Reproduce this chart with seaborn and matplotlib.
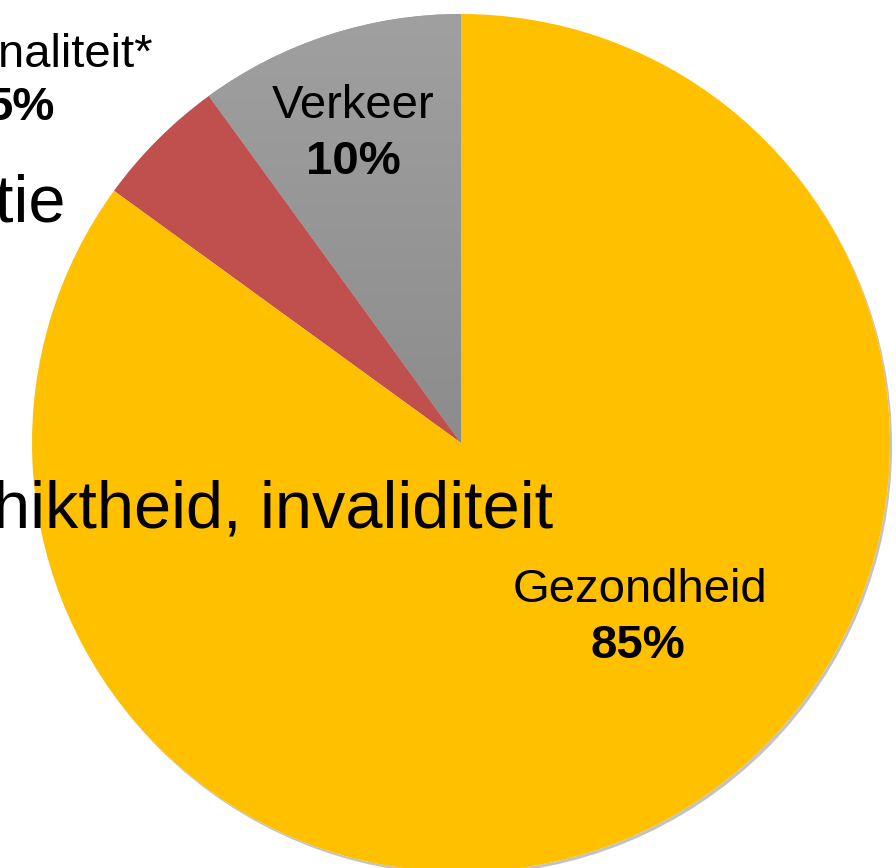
import numpy as np
import matplotlib
matplotlib.use("Agg")
import matplotlib.pyplot as plt
import matplotlib.patheffects as pe
from matplotlib.patches import Circle
from matplotlib.colors import LinearSegmentedColormap
import seaborn as sns

# data
categorieen = ["Verkeer", "Criminaliteit*", "Gezondheid"]
percentages = [10, 5, 85]
kleuren = ["#9A9A9A", "#C0504D", "#FFC000"]
achtergrond_tekst = ["tie", "hiktheid, invaliditeit"]

sns.set_theme(style="white")
plt.rcParams["font.family"] = ["Liberation Sans", "DejaVu Sans"]
plt.rcParams["text.color"] = "black"

fig = plt.figure(figsize=(8.96, 8.68), dpi=100)
ax = fig.add_axes([0, 0, 1, 1])

centrum = (461, 425)
straal = 429

# schaduw onder de taart
schaduw = Circle(centrum, straal, facecolor="white", edgecolor="none", zorder=1,
                 path_effects=[pe.SimplePatchShadow(offset=(1.5, -2), shadow_rgbFace="#555555", alpha=0.35),
                               pe.Normal()])
ax.add_patch(schaduw)

wedges, _ = ax.pie(percentages, colors=kleuren, startangle=90, counterclock=True,
                   center=centrum, radius=straal, frame=True,
                   wedgeprops=dict(linewidth=0, zorder=2))

# verloop in het grijze segment
grijs = LinearSegmentedColormap.from_list("grijs", ["#8C8C8C", "#A0A0A0"])
verloop = np.linspace(0, 1, 256).reshape(-1, 1)
img = ax.imshow(verloop, cmap=grijs, origin="lower", aspect="auto",
                extent=(200, 470, centrum[1], centrum[1] + straal + 2), zorder=3)
img.set_clip_path(wedges[0])

ax.set_xlim(0, 896)
ax.set_ylim(0, 868)
ax.set_aspect("equal")
ax.axis("off")

H = 868
fs = 34
ax.text(353, H - 118, "Verkeer", ha="center", va="baseline", fontsize=fs, color="black", zorder=5)
ax.text(353, H - 174, "10%", ha="center", va="baseline", fontsize=fs, fontweight="bold", color="black", zorder=5)
ax.text(21, H - 67, "Criminaliteit*", ha="center", va="baseline", fontsize=fs, color="black", zorder=5)
ax.text(21, H - 120, "5%", ha="center", va="baseline", fontsize=fs, fontweight="bold", color="black", zorder=5)
ax.text(640, H - 602, "Gezondheid", ha="center", va="baseline", fontsize=fs, color="black", zorder=5)
ax.text(638, H - 658, "85%", ha="center", va="baseline", fontsize=fs, fontweight="bold", color="black", zorder=5)

# afgesneden dia-tekst
ax.text(65, H - 222, achtergrond_tekst[0], ha="right", va="baseline", fontsize=48, color="black", zorder=5)
ax.text(553, H - 527, achtergrond_tekst[1], ha="right", va="baseline", fontsize=48, color="black", zorder=5)

fig.savefig("out.png", dpi=100)
